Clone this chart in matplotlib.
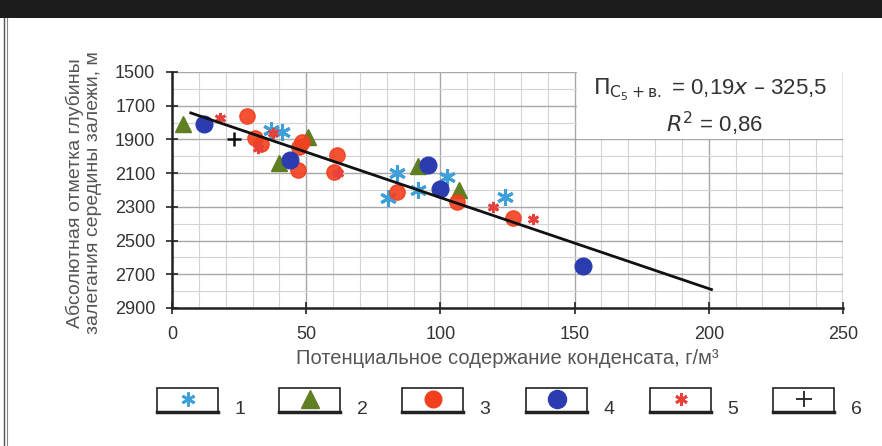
import matplotlib
matplotlib.use("Agg")
import matplotlib.pyplot as plt
from matplotlib.patches import Rectangle
import numpy as np
from matplotlib import font_manager

names = {f.name for f in font_manager.fontManager.ttflist}
main_font = "Liberation Sans Narrow" if "Liberation Sans Narrow" in names else "Liberation Sans"
plt.rcParams['font.family'] = [main_font, 'DejaVu Sans']
plt.rcParams['mathtext.fontset'] = 'dejavusans'

# ---- data ----
s1_x = [37, 41, 84, 80.5, 91.5, 102.5, 124]
s1_y = [1845, 1855, 2100, 2245, 2200, 2125, 2240]
s2_x = [4, 40, 50.5, 91.5, 107]
s2_y = [1810, 2040, 1885, 2055, 2200]
s3_x = [28, 31, 33, 47, 48.5, 47.5, 61.5, 60.5, 84, 106, 127]
s3_y = [1760, 1890, 1930, 2080, 1915, 1945, 1990, 2095, 2210, 2270, 2365]
s4_x = [12, 44, 95.5, 100, 153]
s4_y = [1810, 2020, 2050, 2195, 2650]
s5_x = [18, 32, 37.5, 62, 119.5, 134.5]
s5_y = [1770, 1950, 1860, 2100, 2300, 2370]
s6_x = [23]
s6_y = [1895]

fit_x = [7, 201]
fit_intercept = 1705
fit_slope = 5.4

x_ticks = [0, 50, 100, 150, 200, 250]
y_ticks = [1500, 1700, 1900, 2100, 2300, 2500, 2700, 2900]
legend_labels = ['1', '2', '3', '4', '5', '6']

c1, c2, c3, c4, c5, c6 = '#3f9fd8', '#5f7f22', '#f2401e', '#2b3cb0', '#e8403a', '#111111'

fig = plt.figure(figsize=(8.82, 4.46), dpi=100)
fig.patch.set_facecolor('white')

# top dark band and panel border
fig.patches.append(Rectangle((0, 1 - 18/446), 1, 18/446, transform=fig.transFigure,
                             facecolor='#1c1c1c', edgecolor='none', zorder=0))
fig.add_artist(plt.Line2D([4/882, 4/882], [0, 1 - 18/446], color='#555555', lw=1))
fig.add_artist(plt.Line2D([7/882, 7/882], [0, 1 - 18/446], color='#888888', lw=0.8))

ax = fig.add_axes([172/882, 1 - 308/446, 671/882, 236/446])
ax.set_xlim(0, 250)
ax.set_ylim(2900, 1500)
ax.set_xticks(x_ticks)
ax.set_yticks(y_ticks)
ax.set_xticks(np.arange(0, 251, 10), minor=True)
ax.set_yticks(np.arange(1500, 2901, 100), minor=True)
ax.grid(which='major', color='#a8a8a8', lw=1.0, zorder=0)
ax.grid(which='minor', color='#d4d4d4', lw=0.8, zorder=0)
ax.set_axisbelow(True)
for s in ['top', 'right']:
    ax.spines[s].set_visible(False)
ax.spines['left'].set_linewidth(1.8)
ax.spines['bottom'].set_linewidth(1.8)
ax.spines['left'].set_color('#222222')
ax.spines['bottom'].set_color('#222222')
ax.tick_params(which='major', direction='inout', length=8, width=1.2, colors='#222222',
               labelsize=13, labelcolor='#333333')
ax.tick_params(axis='y', which='major', pad=8)
ax.tick_params(axis='x', which='major', pad=9)
ax.tick_params(which='minor', length=0)

# white box behind equation
ax.add_patch(Rectangle((151, 1500), 99, 400, facecolor='white', edgecolor='none', zorder=1))
ax.axvline(250, ymin=0, ymax=1, color='#888888', lw=1, zorder=2)

fx = np.array(fit_x)
ax.plot(fx, fit_intercept + fit_slope * fx, color='#111111', lw=2, zorder=4)

ax.plot(s1_x, s1_y, ls='none', marker=(6, 2, 0), ms=12, mew=2.2, color=c1, zorder=3)
ax.plot(s2_x, s2_y, ls='none', marker='^', ms=11, color=c2, zorder=3)
ax.plot(s3_x, s3_y, ls='none', marker='o', ms=11, color=c3, alpha=0.9, zorder=3)
ax.plot(s4_x, s4_y, ls='none', marker='o', ms=12, color=c4, zorder=3)
ax.plot(s5_x, s5_y, ls='none', marker=(6, 2, 0), ms=8, mew=2, color=c5, zorder=3)
ax.plot(s6_x, s6_y, ls='none', marker='+', ms=10, mew=1.8, color=c6, zorder=3)

ax.text(0.802, 0.925, r'$\mathrm{П}_{\mathrm{C_5+в.}}$ = 0,19$x$ – 325,5', transform=ax.transAxes,
        ha='center', va='center', fontsize=16, color='#333333', zorder=5)
ax.text(0.808, 0.78, r'$R^2$ = 0,86', transform=ax.transAxes,
        ha='center', va='center', fontsize=16, color='#333333', zorder=5)

ax.set_xlabel('Потенциальное содержание конденсата, г/м³', fontsize=14.5, color='#555555', labelpad=4)
fig.text(84/882, 1 - 193/446, 'Абсолютная отметка глубины\nзалегания середины залежи, м',
         rotation=90, ha='center', va='center', fontsize=14, color='#555555', linespacing=1.05)

# legend boxes
lax = fig.add_axes([0, 0, 1, 1], facecolor='none')
lax.set_xlim(0, 882)
lax.set_ylim(446, 0)
lax.axis('off')
box_left = [157, 279, 402, 526, 650, 773]
mk = [dict(marker=(6, 2, 0), ms=10, mew=2, color=c1),
      dict(marker='^', ms=13, color=c2),
      dict(marker='o', ms=12, color=c3),
      dict(marker='o', ms=13, color=c4),
      dict(marker=(6, 2, 0), ms=9, mew=2, color=c5),
      dict(marker='+', ms=12, mew=1.3, color='#222222')]
for bl, lab, m in zip(box_left, legend_labels, mk):
    lax.add_patch(Rectangle((bl, 388), 61, 24, facecolor='white', edgecolor='#222222', lw=1.2))
    lax.plot([bl, bl + 61], [412, 412], color='#222222', lw=2.5)
    lax.plot([bl + 30.5], [399], ls='none', **m)
    lax.text(bl + 83, 409, lab, ha='center', va='center', fontsize=14, color='#333333')

fig.savefig('out.png', dpi=100)
